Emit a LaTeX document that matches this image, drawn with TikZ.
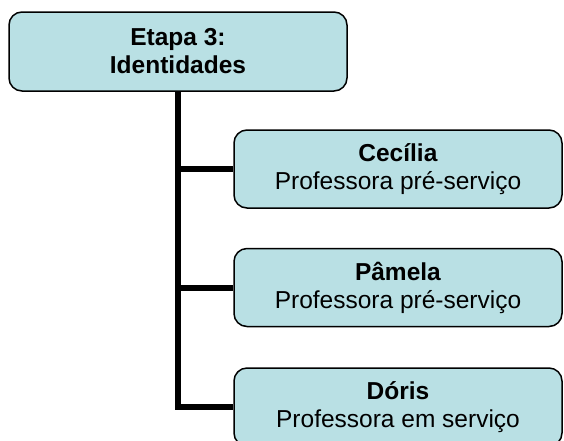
\documentclass[tikz,border=0pt]{standalone}
\usepackage{fontspec}
\setmainfont{Liberation Sans}
\usepackage{tikz}
\usetikzlibrary{positioning}
\definecolor{boxblue}{RGB}{185,224,228}
\tikzset{
    stagebox/.style={draw=black, line width=1.5pt, fill=boxblue, rounded corners=13pt,
        align=center, inner sep=0pt, font=\fontsize{24.5}{28}\selectfont},
    trunk/.style={line width=6pt, line join=miter}}

\begin{document}
\begin{tikzpicture}[x=1pt, y=-1pt]
                    \useasboundingbox (0,0) rectangle (564,440);

                    \node[stagebox, minimum width=338pt, minimum height=79pt] (etapa) at (178,51.5) {\textbf{Etapa 3:}\\\textbf{Identidades}};
                    \node[stagebox, minimum width=328pt, minimum height=78pt] (cecilia) at (398,169) {\textbf{Cecília}\\Professora pré-serviço};
                    \node[stagebox, minimum width=328pt, minimum height=78pt] (pamela) at (398,287.5) {\textbf{Pâmela}\\Professora pré-serviço};
                    \node[stagebox, minimum width=328pt, minimum height=78pt] (doris) at (398,407) {\textbf{Dóris}\\Professora em serviço};

                    \draw[trunk] (etapa.south) |- (doris.west);
                    \draw[trunk] (etapa.south |- cecilia.west) -- (cecilia.west);
                    \draw[trunk] (etapa.south |- pamela.west) -- (pamela.west);

                \end{tikzpicture}
\end{document}
